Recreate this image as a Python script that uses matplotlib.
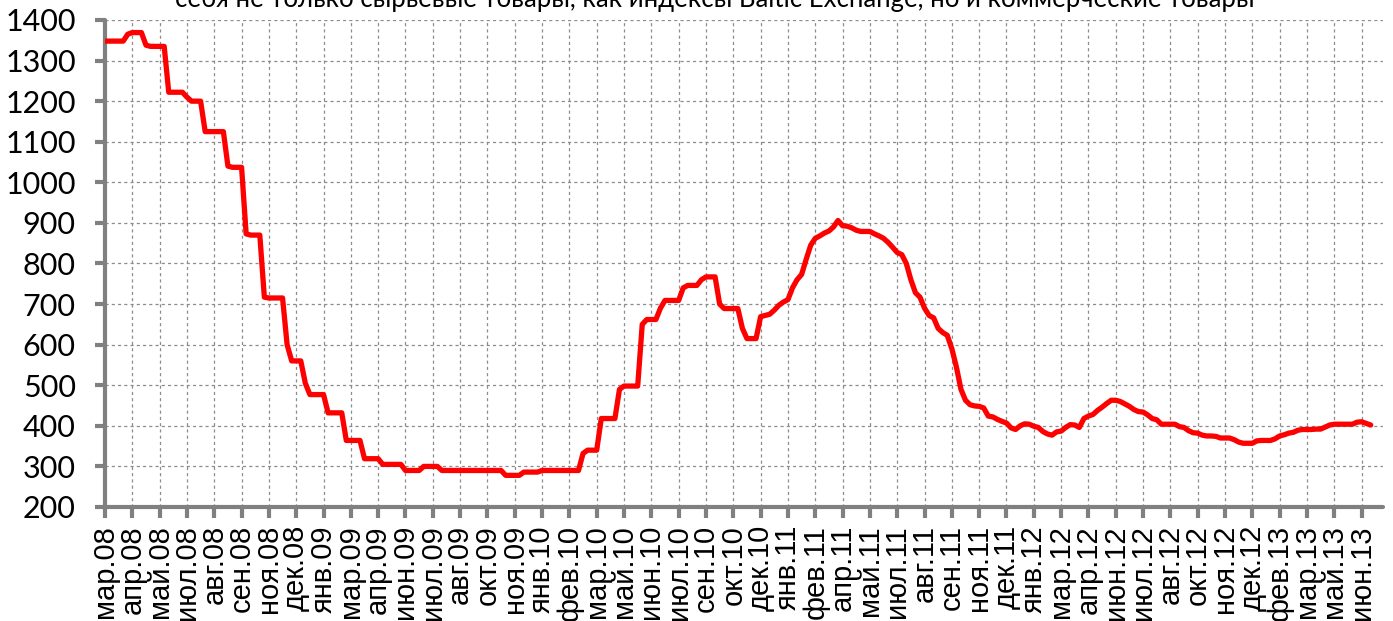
import numpy as np
import matplotlib
matplotlib.use("Agg")
import matplotlib.pyplot as plt

# недельные значения индекса (с марта 2008 по июнь 2013)
values = [
    1348, 1348, 1348, 1348, 1348, 1365, 1369, 1369, 1369, 1338,
    1335, 1335, 1335, 1335, 1222, 1222, 1222, 1222, 1210, 1200,
    1200, 1200, 1125, 1125, 1125, 1125, 1125, 1040, 1037, 1037,
    1037, 873, 870, 870, 870, 717, 715, 715, 715, 715,
    600, 560, 560, 560, 505, 477, 477, 477, 477, 432,
    432, 432, 432, 364, 364, 364, 364, 319, 319, 319,
    319, 305, 305, 305, 305, 305, 290, 290, 290, 290,
    300, 300, 300, 300, 290, 290, 290, 290, 290, 290,
    290, 290, 290, 290, 290, 290, 290, 290, 278, 278,
    278, 278, 286, 286, 286, 286, 290, 290, 290, 290,
    290, 290, 290, 290, 290, 332, 340, 340, 340, 418,
    418, 418, 418, 490, 498, 498, 498, 498, 650, 662,
    662, 662, 690, 709, 709, 709, 709, 740, 746, 746,
    746, 760, 767, 767, 767, 700, 689, 689, 689, 689,
    640, 615, 615, 615, 669, 672, 675, 685, 697, 705,
    711, 740, 760, 773, 810, 845, 862, 868, 875, 880,
    890, 906, 893, 892, 888, 882, 879, 879, 879, 873,
    868, 862, 852, 840, 827, 822, 800, 760, 728, 717,
    690, 672, 666, 640, 630, 623, 590, 545, 490, 463,
    452, 449, 448, 444, 424, 422, 416, 411, 407, 395,
    391, 400, 405, 404, 399, 396, 386, 380, 377, 385,
    387, 396, 403, 402, 396, 418, 424, 428, 438, 446,
    455, 463, 463, 460, 454, 448, 440, 435, 434, 427,
    418, 415, 404, 404, 404, 404, 398, 396, 388, 383,
    382, 377, 375, 375, 374, 370, 370, 370, 366, 360,
    357, 357, 357, 363, 364, 364, 364, 368, 375, 378,
    382, 384, 389, 391, 391, 391, 392, 392, 397, 402,
    404, 404, 404, 404, 404, 409, 410, 406, 402,
]

# подписи оси X ставятся каждые 6 недель
tick_labels = [
    "мар.08", "апр.08", "май.08", "июл.08", "авг.08", "сен.08", "ноя.08",
    "дек.08", "янв.09", "мар.09", "апр.09", "июн.09", "июл.09", "авг.09",
    "окт.09", "ноя.09", "янв.10", "фев.10", "мар.10", "май.10", "июн.10",
    "июл.10", "сен.10", "окт.10", "дек.10", "янв.11", "фев.11", "апр.11",
    "май.11", "июл.11", "авг.11", "сен.11", "ноя.11", "дек.11", "янв.12",
    "мар.12", "апр.12", "июн.12", "июл.12", "авг.12", "окт.12", "ноя.12",
    "дек.12", "фев.13", "мар.13", "май.13", "июн.13",
]
label_step = 6

title = "себя не только сырьевые товары, как индексы Baltic Exchange, но и коммерческие товары"

fig = plt.figure(figsize=(13.93, 6.21), dpi=100)
ax = fig.add_axes([105 / 1393, 1 - 507 / 621, 1278 / 1393, 487 / 621])

x = np.arange(len(values))
ax.plot(x, values, color="#ff0000", lw=3.8, solid_joinstyle="round",
        solid_capstyle="round", zorder=3)

ax.set_ylim(200, 1400)
ax.set_yticks(np.arange(200, 1401, 100))
ax.set_xlim(0, 280.7)
ax.set_xticks(np.arange(len(tick_labels)) * label_step)
ax.set_xticklabels(tick_labels, rotation=90, family="Liberation Sans",
                   fontsize=21, va="top", ha="center")
for lbl in ax.get_yticklabels():
    lbl.set_family("Lato")
    lbl.set_fontsize(22)

ax.grid(True, color="#8c8c8c", lw=0.9, ls=(0, (2.5, 2.5)))
ax.set_axisbelow(True)

for side in ("top", "right"):
    ax.spines[side].set_visible(False)
for side in ("left", "bottom"):
    ax.spines[side].set_color("#808080")
    ax.spines[side].set_linewidth(3)
    ax.spines[side].set_capstyle("round")

ax.tick_params(axis="y", direction="out", length=7, width=3,
               color="#808080", pad=14)
ax.tick_params(axis="x", direction="out", length=8, width=3,
               color="#808080", pad=5)

fig.text(0.513, 0.988, title, ha="center", va="baseline",
         family="Lato", fontsize=18.5)

fig.savefig("out.png", dpi=100)
